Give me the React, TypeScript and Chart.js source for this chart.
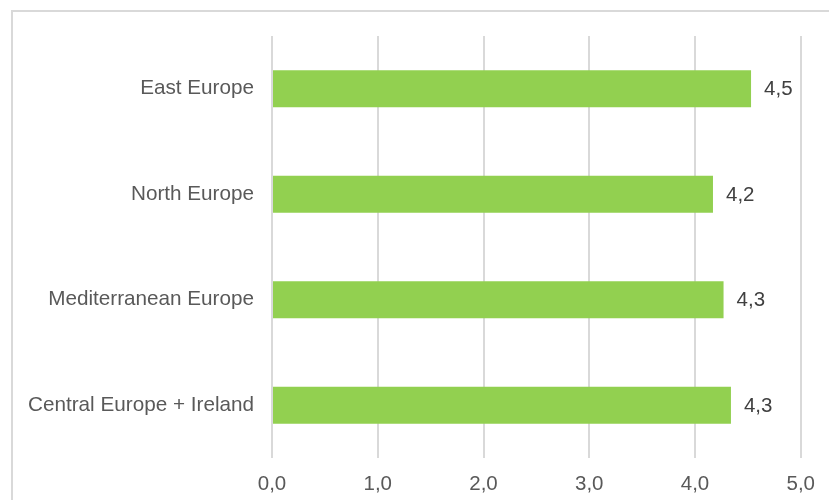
import React, { useEffect, useRef } from "react";
import { Chart, registerables } from "chart.js";

Chart.register(...registerables);

const categories = ["East Europe", "North Europe", "Mediterranean Europe", "Central Europe + Ireland"];
const values = [4.53, 4.17, 4.27, 4.34];
const xTicks = [0, 1, 2, 3, 4, 5];

const FONT = "'Liberation Sans', Arial, Helvetica, sans-serif";

const framePlugin = {
  id: "frame",
  beforeDraw(chart: any) {
    const ctx = chart.ctx;
    ctx.save();
    ctx.strokeStyle = "#d9d9d9";
    ctx.lineWidth = 2;
    ctx.beginPath();
    ctx.moveTo(12, chart.height + 5);
    ctx.lineTo(12, 11);
    ctx.lineTo(chart.width + 5, 11);
    ctx.stroke();
    ctx.restore();
  },
};

const labelPlugin = {
  id: "valueLabels",
  afterDatasetsDraw(chart: any) {
    const ctx = chart.ctx;
    const meta = chart.getDatasetMeta(0);
    ctx.save();
    ctx.font = `20.5px ${FONT}`;
    ctx.fillStyle = "#404040";
    ctx.textAlign = "left";
    ctx.textBaseline = "middle";
    meta.data.forEach((bar: any, i: number) => {
      const v = chart.data.datasets[0].data[i] as number;
      ctx.fillText(v.toFixed(1).replace(".", ","), bar.x + 13, bar.y + 1);
    });
    ctx.restore();
  },
};

export default function App() {
  const ref = useRef<HTMLCanvasElement>(null);
  useEffect(() => {
    if (!ref.current) return;
    const chart = new Chart(ref.current, {
      type: "bar",
      data: {
        labels: categories,
        datasets: [
          {
            data: values,
            backgroundColor: "#92D050",
            barPercentage: 0.35,
            categoryPercentage: 1,
          },
        ],
      },
      options: {
        indexAxis: "y",
        animation: false,
        responsive: false,
        maintainAspectRatio: false,
        layout: { padding: { top: 36, right: 28, left: 0, bottom: 0 } },
        plugins: { legend: { display: false }, tooltip: { enabled: false } },
        scales: {
          x: {
            min: 0,
            max: 5,
            afterBuildTicks(scale: any) {
              scale.ticks = xTicks.map((v) => ({ value: v }));
            },
            afterFit(scale: any) {
              scale.height = 42;
            },
            grid: { color: "#d9d9d9", lineWidth: 2, drawTicks: false },
            border: { display: false },
            ticks: {
              padding: 14,
              color: "#595959",
              font: { family: FONT, size: 20.5 },
              callback: (v: any) => Number(v).toFixed(1).replace(".", ","),
            },
          },
          y: {
            afterFit(scale: any) {
              scale.width = 272;
            },
            grid: { display: false, drawTicks: false },
            border: { display: false },
            ticks: {
              padding: 18,
              color: "#595959",
              font: { family: FONT, size: 20.7 },
            },
          },
        },
      },
      plugins: [framePlugin, labelPlugin],
    });
    return () => chart.destroy();
  }, []);
  return (
    <div style={{ position: "fixed", left: 0, top: 0, width: 829, height: 500, background: "#fff", overflow: "hidden" }}>
      <canvas ref={ref} width={829} height={500} style={{ display: "block", width: 829, height: 500 }} />
    </div>
  );
}
